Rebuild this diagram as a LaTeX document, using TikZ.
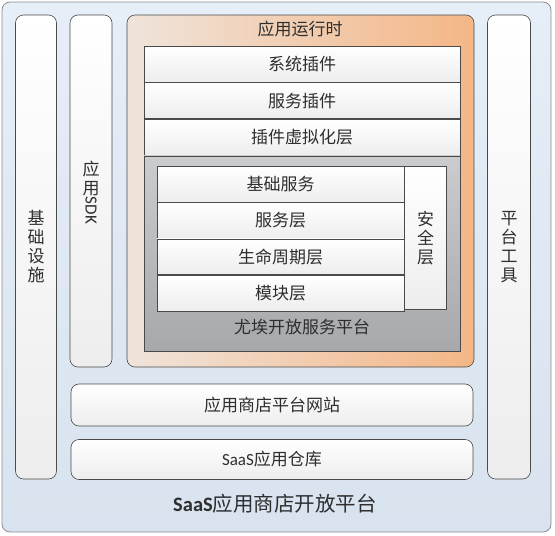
\documentclass[tikz,border=0pt]{standalone}
\usepackage{fontspec}
\setmainfont{Noto Sans CJK SC}
\newfontfamily\lat{Carlito}
\usetikzlibrary{positioning}

\definecolor{edge}{HTML}{4A4A4A}
\definecolor{txt}{HTML}{2E2E2E}
\definecolor{skyA}{HTML}{E6EEF7}
\definecolor{skyB}{HTML}{D8E3EF}
\definecolor{peachA}{HTML}{EFE4DB}
\definecolor{peachB}{HTML}{F4B686}
\definecolor{greyA}{HTML}{CBCCCE}
\definecolor{greyB}{HTML}{A6A8AB}

\begin{document}
\begin{tikzpicture}[x=1pt,y=-1pt,
  every node/.style={inner sep=0pt,text=txt,font=\fontsize{17}{19}\selectfont},
  row/.style={draw=edge,line width=0.6pt,top color=white,bottom color=black!7,rectangle},
  pill/.style={row,rounded corners=8pt},
  vtext/.style={align=center}]
  \useasboundingbox (0,0) rectangle (555,536);

  % outer platform
  \node[draw=black!45,line width=0.8pt,rounded corners=8pt,top color=skyA,bottom color=skyB,
    minimum width=549,minimum height=530] (saas) at (276.5,267) {};
  \node[font=\fontsize{20.5}{22}\selectfont] (saastxt) at (275,504) {{\lat\bfseries SaaS}应用商店开放平台};

  % side columns
  \node[pill,minimum width=41,minimum height=464] (infra) at (36,247) {};
  \node[vtext] (infratxt) at (36,247) {基\\础\\设\\施};
  \node[pill,minimum width=42,minimum height=352] (sdk) at (91,191) {};
  \node[vtext] (sdktxt) at (91,179) {应\\用};
  \node[rotate=-90,anchor=west,font=\lat\fontsize{17}{19}\selectfont] (sdklat) at (sdktxt.south) {SDK};
  \node[pill,minimum width=43,minimum height=464] (tools) at (509,247) {};
  \node[vtext] (toolstxt) at (509,247) {平\\台\\工\\具};

  % runtime
  \node[draw=edge,line width=0.6pt,rounded corners=8pt,left color=peachA,right color=peachB,
    minimum width=347,minimum height=352] (runtime) at (300.5,191) {};
  \node (runtimetxt) at (300,29) {应用运行时};
  \node[row,minimum width=316,minimum height=36] (sysplug) at (302,64) {系统插件};
  \node[row,minimum width=316,minimum height=36,below=0pt of sysplug] (svcplug) {服务插件};
  \node[row,minimum width=316,minimum height=36,below=0pt of svcplug] (virt) {插件虚拟化层};

  % osgi platform
  \node[draw=edge,line width=0.6pt,top color=greyA,bottom color=greyB,
    minimum width=316,minimum height=195,below=0pt of virt] (osgi) {};
  \node (osgitxt) at (302,327) {尤埃开放服务平台};
  \node[row,minimum width=247,minimum height=35.8] (basesvc) at (280.5,184) {基础服务};
  \node[row,minimum width=247,minimum height=35.8,below=0pt of basesvc] (svclayer) {服务层};
  \node[row,minimum width=247,minimum height=35.8,below=0pt of svclayer] (life) {生命周期层};
  \node[row,minimum width=247,minimum height=35.8,below=0pt of life] (module) {模块层};
  \node[row,minimum width=42,minimum height=143.2,anchor=north west] (sec) at (basesvc.north east) {};
  \node[vtext] (sectxt) at (sec) {安\\全\\层};

  % bottom bars
  \node[pill,minimum width=402,minimum height=42] (web) at (272,405) {应用商店平台网站};
  \node[pill,minimum width=402,minimum height=40] (repo) at (272,459.5) {{\lat SaaS}应用仓库};
\end{tikzpicture}
\end{document}
